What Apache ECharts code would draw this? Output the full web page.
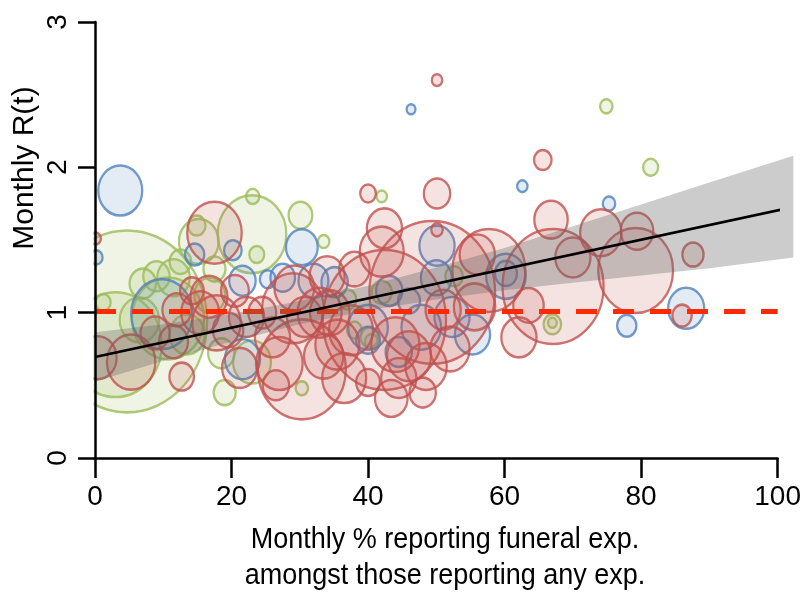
<!DOCTYPE html>
<html>
<head>
<meta charset="utf-8">
<script src="https://cdn.jsdelivr.net/npm/echarts@6/dist/echarts.min.js"></script>
<style>
  html, body { margin: 0; padding: 0; background: #fff; }
  #main { width: 804px; height: 593px; }
</style>
</head>
<body>
<div id="main"></div>
<script>
// [x = % reporting funeral exp., y = monthly R(t), weight]
const greenPts = [
  [4.7, 0.94, 331], [3.0, 0.78, 110], [10.7, 0.96, 67.2], [23.0, 1.54, 60.8],
  [23.1, 1.80, 2.3], [30.1, 1.67, 7.3], [33.5, 1.49, 1.7], [23.7, 1.40, 2.9],
  [15.2, 1.49, 20.3], [14.9, 1.60, 4], [11.5, 1.24, 13.7], [1.2, 1.07, 2.9],
  [30.3, 0.48, 2], [23.0, 0.66, 18.5], [74.9, 2.42, 2], [81.4, 2.00, 2.9],
  [67.0, 0.92, 4], [67.0, 0.93, 1], [42.0, 1.80, 1.4], [52.6, 1.25, 4],
  [37.0, 1.09, 4], [40.2, 0.83, 4], [42.0, 1.14, 5.3], [13.5, 0.85, 16],
  [16.8, 1.12, 12.3], [7.0, 1.20, 9], [18.5, 0.72, 9], [19.0, 0.45, 6.3],
  [38.0, 0.88, 2.9], [40.5, 0.80, 2.3], [9.0, 1.25, 9], [12.5, 1.35, 6],
  [17.5, 1.30, 6.3], [6.5, 0.95, 20]
];
const bluePts = [
  [3.7, 1.84, 25], [46.3, 2.40, 1], [62.6, 1.87, 1.4], [75.3, 1.75, 2],
  [77.9, 0.91, 4.8], [86.6, 1.03, 16.8], [0.2, 1.38, 2], [30.3, 1.45, 13],
  [21.6, 1.22, 9], [14.6, 1.40, 4.8], [25.3, 1.23, 3.2], [27.5, 1.24, 7.8],
  [32.0, 1.22, 11.6], [9.8, 0.99, 49], [20.2, 1.43, 4], [21.6, 0.68, 16],
  [55.3, 0.85, 16], [50.1, 1.46, 16], [60.2, 1.25, 20.3], [60.2, 1.27, 6.3],
  [40.0, 0.90, 20.3], [47.8, 0.90, 20.3], [52.3, 0.97, 16], [50.0, 1.24, 12.3],
  [35.1, 1.21, 9], [43.1, 1.15, 9], [46.0, 1.08, 6.3], [44.5, 0.73, 9],
  [40.0, 0.81, 7.3]
];
const redPts = [
  [49.4, 1.14, 204], [42.4, 0.95, 196], [67.1, 1.18, 132], [30.3, 0.61, 100],
  [79.2, 1.29, 72.3], [57.7, 1.29, 68.9], [29.0, 1.03, 49], [17.5, 1.55, 38.4],
  [5.3, 0.66, 30.3], [17.8, 0.93, 30.3], [44.0, 0.78, 30], [27.0, 0.65, 28.1],
  [42.0, 1.42, 25], [32.9, 1.00, 25], [35.5, 0.78, 25], [37.5, 0.88, 25],
  [36.5, 0.55, 25], [46.0, 0.70, 25], [74.1, 1.55, 22.1], [55.6, 1.04, 22.1],
  [48.5, 0.63, 22.1], [29.2, 1.17, 20.3], [34.4, 1.00, 20.3], [33.5, 0.70, 20],
  [52.0, 0.75, 20], [0.4, 0.69, 18.5], [15.4, 1.00, 18.5], [16.7, 1.11, 17.6],
  [42.4, 1.58, 16], [51.0, 1.02, 16], [62.1, 0.83, 16], [70.0, 1.38, 16],
  [21.2, 0.62, 16], [26.0, 0.83, 16], [30.7, 0.97, 16], [22.2, 0.97, 16],
  [44.5, 0.55, 16], [34.0, 1.25, 16], [56.0, 1.40, 16], [66.8, 1.64, 14.4],
  [79.4, 1.56, 13.7], [43.4, 0.41, 13.7], [38.0, 1.30, 12], [63.5, 1.05, 12],
  [19.5, 0.88, 12], [11.5, 0.80, 10.9], [8.8, 0.86, 10.9], [12.0, 1.02, 10.9],
  [24.5, 1.00, 10], [20.5, 1.15, 10], [50.1, 1.82, 9], [26.5, 0.50, 9],
  [48.0, 0.45, 9], [12.7, 0.56, 7.8], [40.0, 0.52, 7.3], [14.2, 1.15, 7.3],
  [87.6, 1.40, 5.8], [86.0, 0.98, 4.8], [65.6, 2.05, 4], [40.0, 1.82, 3.2],
  [50.1, 1.57, 1.7], [50.1, 2.60, 1.4], [0.1, 1.51, 1.4]
];

// linear fit and its 95% band
const fitX = [0, 102.3];
const fitY = [0.695, 1.727];
const bandX  = [0, 10, 20, 30, 40, 50, 60, 70, 80, 90, 102.3];
const bandLo = [0.525, 0.67, 0.80, 0.92, 1.015, 1.09, 1.155, 1.205, 1.255, 1.305, 1.38];
const bandHi = [0.865, 0.92, 0.99, 1.08, 1.185, 1.31, 1.445, 1.595, 1.745, 1.895, 2.08];
const refLevel = 1.01;

const xTicks = [0, 20, 40, 60, 80, 100];
const yTicks = [0, 1, 2, 3];

const FONT = '"Liberation Sans", Arial, sans-serif';

function bubbles(name, data, stroke, fill) {
  return {
    name: name,
    type: 'scatter',
    data: data,
    z: 2,
    symbol: 'circle',
    symbolSize: function (v) {
      const s = 10 * Math.sqrt(v[2]);
      return [s * 0.88, s];
    },
    itemStyle: { color: fill, borderColor: stroke, borderWidth: 2.4 },
    emphasis: { disabled: true }
  };
}

const chart = echarts.init(document.getElementById('main'));
chart.setOption({
  animation: false,
  backgroundColor: '#fff',
  grid: { left: 95, right: 25, top: 22, bottom: 135 },
  xAxis: {
    type: 'value', min: xTicks[0], max: xTicks[xTicks.length - 1], interval: 20,
    z: 100,
    splitLine: { show: false },
    axisLine: { lineStyle: { color: '#000', width: 2.5 } },
    axisTick: { length: 20, lineStyle: { color: '#000', width: 2.5 } },
    axisLabel: { margin: 25, color: '#000', fontSize: 28, fontFamily: FONT }
  },
  yAxis: {
    type: 'value', min: yTicks[0], max: yTicks[yTicks.length - 1], interval: 1,
    z: 100,
    splitLine: { show: false },
    axisLine: { show: true, lineStyle: { color: '#000', width: 2.5 } },
    axisTick: { show: true, length: 17, lineStyle: { color: '#000', width: 2.5 } },
    axisLabel: { margin: 23, rotate: 90, color: '#000', fontSize: 28, fontFamily: FONT }
  },
  graphic: [
    // keep bubbles inside the plot area on the left
    { type: 'rect', z: 50, shape: { x: 0, y: 0, width: 93.5, height: 460 }, style: { fill: '#fff' } },
    { type: 'text', z: 60, x: 25, y: 168, rotation: Math.PI / 2,
      style: { text: 'Monthly R(t)', font: '30px ' + FONT, fill: '#000', align: 'center', verticalAlign: 'middle' } },
    { type: 'text', z: 60, x: 445, y: 558, scaleX: 0.9,
      style: { text: 'Monthly % reporting funeral exp.\namongst those reporting any exp.',
        font: '30px ' + FONT, fill: '#000', align: 'center', verticalAlign: 'middle', lineHeight: 36 } }
  ],
  series: [
    bubbles('green', greenPts, '#9bbb59', 'rgba(155,187,89,0.2)'),
    bubbles('blue', bluePts, '#4f81bd', 'rgba(79,129,189,0.2)'),
    bubbles('red', redPts, '#c0504d', 'rgba(192,80,77,0.2)'),
    {
      type: 'custom',
      z: 5,
      clip: false,
      silent: true,
      data: [[0, 0]],
      renderItem: function (params, api) {
        const pts = [];
        for (let i = 0; i < bandX.length; i++) pts.push(api.coord([bandX[i], bandHi[i]]));
        for (let i = bandX.length - 1; i >= 0; i--) pts.push(api.coord([bandX[i], bandLo[i]]));
        return { type: 'polygon', shape: { points: pts }, style: { fill: 'rgba(100,100,100,0.33)' } };
      }
    },
    {
      type: 'line',
      z: 8,
      clip: false,
      silent: true,
      showSymbol: false,
      data: fitX.map((x, i) => [x, fitY[i]]),
      lineStyle: { color: '#000', width: 2.5 },
      markLine: {
        silent: true,
        symbol: 'none',
        label: { show: false },
        lineStyle: { color: '#ff2a00', width: 5, type: [21, 16] },
        data: [{ yAxis: refLevel }]
      }
    }
  ]
});
</script>
</body>
</html>
